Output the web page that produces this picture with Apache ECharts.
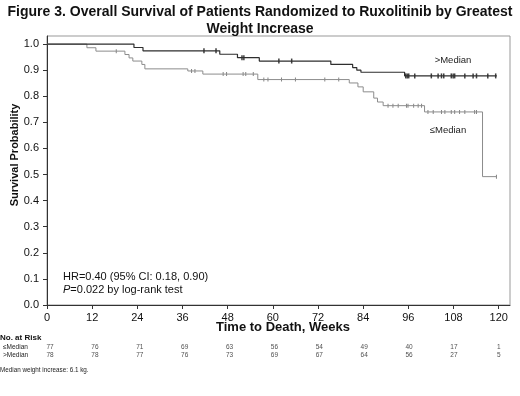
<!DOCTYPE html>
<html>
<head>
<meta charset="utf-8">
<script src="https://cdn.jsdelivr.net/npm/echarts@6/dist/echarts.min.js"></script>
<style>
html, body { margin: 0; padding: 0; background: #fff; }
#chart { width: 520px; height: 396px; }
</style>
</head>
<body>
<div id="chart"></div>
<script>
// tick labels
const xTicks = [0, 12, 24, 36, 48, 60, 72, 84, 96, 108, 120]
const yTicks = [0, 0.1, 0.2, 0.3, 0.4, 0.5, 0.6, 0.7, 0.8, 0.9, 1.0]

// >Median: event times (weeks) and survival after each step
const aboveTimes = [0, 23.1, 25.5, 45.9, 50.6, 56.4, 75.4, 81.2, 82.3, 83.4, 95.0, 119.5]
const aboveSurv = [1.0, 0.987, 0.974, 0.961, 0.948, 0.935, 0.922, 0.910, 0.900, 0.892, 0.878, 0.878]
const aboveCensor = [41.7, 44.9, 51.8, 52.3, 61.6, 65.0, 95.3, 95.7, 96.1, 97.7, 102.1, 103.9, 104.8, 105.4, 107.4, 107.9, 108.3, 111.0, 113.2, 114.1, 117.1, 119.2]

// <=Median
const belowTimes = [0, 10.6, 13.0, 20.7, 21.8, 22.8, 25.2, 26.0, 37.4, 41.4, 56.0, 80.3, 82.6, 84.0, 86.8, 87.8, 89.3, 100.3, 115.7, 119.5]
const belowSurv = [1.0, 0.986, 0.973, 0.960, 0.947, 0.935, 0.922, 0.905, 0.897, 0.885, 0.864, 0.851, 0.836, 0.817, 0.793, 0.778, 0.764, 0.740, 0.492, 0.492]
const belowCensor = [18.4, 38.4, 39.3, 46.8, 47.7, 52.1, 52.8, 54.8, 57.6, 58.7, 62.3, 66.0, 73.8, 77.5, 90.6, 91.9, 93.3, 95.5, 95.9, 97.4, 98.6, 99.5, 101.2, 102.6, 104.8, 105.7, 107.4, 108.3, 109.6, 111.0, 113.6, 114.1, 119.4]

// number at risk
const riskRows = ['≤Median', '>Median']
const riskBelow = [77, 76, 71, 69, 63, 56, 54, 49, 40, 17, 1]
const riskAbove = [78, 78, 77, 76, 73, 69, 67, 64, 56, 27, 5]

const FONT = 'Arial, "Liberation Sans", sans-serif'
const DARK = '#2e2e2e'
const LIGHT = '#8c8c8c'

function survAt (times, surv, t) {
    let v = surv[0]
    for (let i = 0; i < times.length; i++) {
        if (times[i] <= t) v = surv[i]
    }
    return v
}

function pairs (times, surv) {
    return times.map((t, i) => [t, surv[i]])
}

const riskData = []
xTicks.forEach((w, i) => {
    riskData.push([w, 0, riskBelow[i]])
    riskData.push([w, 1, riskAbove[i]])
})

const chart = echarts.init(document.getElementById('chart'))
chart.setOption({
    animation: false,
    title: {
        text: 'Figure 3. Overall Survival of Patients Randomized to Ruxolitinib by Greatest\nWeight Increase',
        left: 'center',
        top: -1,
        textStyle: { fontFamily: FONT, fontSize: 14, fontWeight: 'bold', color: '#111', lineHeight: 16.5 }
    },
    grid: [
        { left: 47, top: 36, width: 463, height: 269, show: true, borderColor: '#999', borderWidth: 1 },
        { left: 47, top: 343.5, width: 463, height: 15 }
    ],
    xAxis: [{
        type: 'value',
        min: 0,
        max: 123,
        interval: 12,
        splitLine: { show: false },
        axisLine: { lineStyle: { color: '#333' } },
        axisTick: { length: 4, customValues: xTicks, lineStyle: { color: '#333' } },
        axisLabel: { customValues: xTicks, margin: 7, fontFamily: FONT, fontSize: 11, color: '#111' }
    }, {
        gridIndex: 1, type: 'value', min: 0, max: 123, show: false
    }],
    yAxis: [{
        type: 'value',
        min: 0,
        max: 1.031,
        interval: 0.1,
        splitLine: { show: false },
        axisLine: { show: true, lineStyle: { color: '#333' } },
        axisTick: { show: true, length: 4, customValues: yTicks, lineStyle: { color: '#333' } },
        axisLabel: {
            customValues: yTicks, margin: 8, fontFamily: FONT, fontSize: 11, color: '#111',
            formatter: v => v.toFixed(1)
        }
    }, {
        gridIndex: 1,
        type: 'category',
        data: riskRows,
        inverse: true,
        axisLine: { show: false },
        axisTick: { show: false },
        axisLabel: { interval: 0, align: 'left', margin: 47, fontFamily: FONT, fontSize: 6.5, color: '#222' }
    }],
    series: [{
        name: '≤Median',
        type: 'line',
        step: 'end',
        showSymbol: false,
        lineStyle: { color: LIGHT, width: 1 },
        data: pairs(belowTimes, belowSurv)
    }, {
        name: '>Median',
        type: 'line',
        step: 'end',
        showSymbol: false,
        lineStyle: { color: DARK, width: 1.2 },
        data: pairs(aboveTimes, aboveSurv)
    }, {
        type: 'scatter',
        symbol: 'rect',
        symbolSize: [1, 4],
        itemStyle: { color: '#666' },
        silent: true,
        data: belowCensor.map(t => [t, survAt(belowTimes, belowSurv, t)])
    }, {
        type: 'scatter',
        symbol: 'rect',
        symbolSize: [1.5, 5],
        itemStyle: { color: '#111' },
        silent: true,
        data: aboveCensor.map(t => [t, survAt(aboveTimes, aboveSurv, t)])
    }, {
        type: 'scatter',
        xAxisIndex: 1,
        yAxisIndex: 1,
        symbolSize: 0,
        silent: true,
        label: {
            show: true,
            position: 'inside',
            formatter: p => p.value[2],
            fontFamily: FONT,
            fontSize: 6.5,
            color: '#222'
        },
        data: riskData
    }],
    graphic: [
        {
            type: 'text', x: 15, y: 155, rotation: Math.PI / 2,
            style: { text: 'Survival Probability', font: 'bold 11px ' + FONT, fill: '#111', align: 'center', verticalAlign: 'middle' }
        },
        {
            type: 'text', x: 283, y: 327,
            style: { text: 'Time to Death, Weeks', font: 'bold 13px ' + FONT, fill: '#111', align: 'center', verticalAlign: 'middle' }
        },
        {
            type: 'text', x: 453, y: 60,
            style: { text: '>Median', font: '9.5px ' + FONT, fill: '#222', align: 'center', verticalAlign: 'middle' }
        },
        {
            type: 'text', x: 448, y: 130,
            style: { text: '≤Median', font: '9.5px ' + FONT, fill: '#222', align: 'center', verticalAlign: 'middle' }
        },
        {
            type: 'text', x: 63, y: 277,
            style: { text: 'HR=0.40 (95% CI: 0.18, 0.90)', font: '11px ' + FONT, fill: '#111', verticalAlign: 'middle' }
        },
        {
            type: 'text', x: 63, y: 290,
            style: {
                text: '{i|P}=0.022 by log-rank test',
                font: '11px ' + FONT, fill: '#111', verticalAlign: 'middle',
                rich: { i: { fontStyle: 'italic', fontFamily: FONT, fontSize: 11, fill: '#111' } }
            }
        },
        {
            type: 'text', x: 0, y: 338,
            style: { text: 'No. at Risk', font: 'bold 8px ' + FONT, fill: '#111', verticalAlign: 'middle' }
        },
        {
            type: 'text', x: 0, y: 370,
            style: { text: 'Median weight increase: 6.1 kg.', font: '6.3px ' + FONT, fill: '#222', verticalAlign: 'middle' }
        }
    ]
})
</script>
</body>
</html>
